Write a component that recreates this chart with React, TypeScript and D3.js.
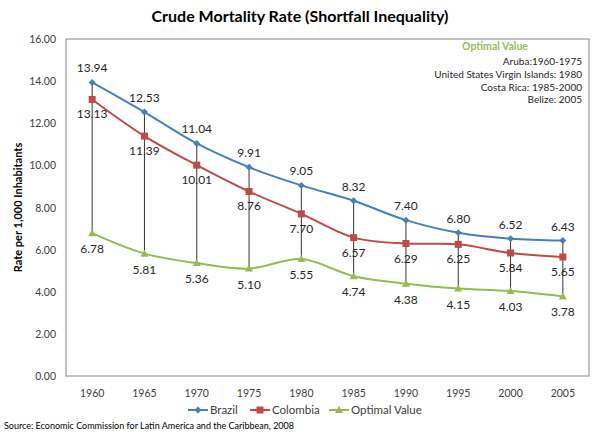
import React from "react";
import * as d3 from "d3";

const years = ["1960", "1965", "1970", "1975", "1980", "1985", "1990", "1995", "2000", "2005"];
const brazil = [13.94, 12.53, 11.04, 9.91, 9.05, 8.32, 7.4, 6.8, 6.52, 6.43];
const colombia = [13.13, 11.39, 10.01, 8.76, 7.7, 6.57, 6.29, 6.25, 5.84, 5.65];
const optimal = [6.78, 5.81, 5.36, 5.1, 5.55, 4.74, 4.38, 4.15, 4.03, 3.78];
const yTicks = [0, 2, 4, 6, 8, 10, 12, 14, 16];
const noteLines = ["Aruba:1960-1975", "United States Virgin Islands: 1980", "Costa Rica: 1985-2000", "Belize: 2005"];

const W = 600, H = 435;
const L = 66, R = 589, T = 39, B = 376;
const FONT = "Lato, 'Open Sans', sans-serif";
const BLUE = "#4A7EBB", RED = "#BE4B48", GREEN = "#98B954";

export default function App() {
  const x = d3.scaleBand().domain(years).range([L, R]);
  const y = d3.scaleLinear().domain([0, 16]).range([B, T]);
  const cx = (i: number) => (x(years[i]) as number) + x.bandwidth() / 2;
  const line = d3
    .line<number>()
    .x((_, i) => cx(i))
    .y((d) => y(d))
    .curve(d3.curveCatmullRom.alpha(0.5));

  const diamond = (px: number, py: number, key: string) => (
    <path key={key} d={`M${px},${py - 3.5}L${px + 3.5},${py}L${px},${py + 3.5}L${px - 3.5},${py}Z`} fill={BLUE} />
  );
  const square = (px: number, py: number, key: string) => (
    <rect key={key} x={px - 3.5} y={py - 3.5} width={7} height={7} fill={RED} />
  );
  const tri = (px: number, py: number, key: string) => (
    <path key={key} d={`M${px},${py - 4}L${px + 4},${py + 3}L${px - 4},${py + 3}Z`} fill={GREEN} />
  );

  const legendItems = [
    { name: "Brazil", color: BLUE, m: diamond },
    { name: "Colombia", color: RED, m: square },
    { name: "Optimal Value", color: GREEN, m: tri },
  ];
  const legendX = [188, 250, 329];

  return (
    <svg width={W} height={H} style={{ display: "block", position: "absolute", left: 0, top: 0 }} fontFamily={FONT}>
      <rect x={0} y={0} width={W} height={H} fill="#fff" />
      <text x={300} y={22} textAnchor="middle" fontSize={16} fontWeight="bold" fill="#000">
        Crude Mortality Rate (Shortfall Inequality)
      </text>
      <rect x={L} y={T} width={R - L} height={B - T} fill="none" stroke="#868686" strokeWidth={1} />
      {yTicks.map((t) => (
        <text key={t} x={56} y={y(t) + 4} textAnchor="end" fontSize={10.5} fill="#404040">
          {t.toFixed(2)}
        </text>
      ))}
      {years.map((yr, i) => (
        <text key={yr} x={cx(i)} y={397} textAnchor="middle" fontSize={10.5} fill="#404040">
          {yr}
        </text>
      ))}
      <text transform={`translate(22,${(T + B) / 2}) rotate(-90)`} textAnchor="middle" fontSize={11} fontWeight="bold" fill="#000">
        Rate per 1,000 Inhabitants
      </text>
      {years.map((yr, i) => (
        <line key={"hl" + yr} x1={cx(i)} x2={cx(i)} y1={y(brazil[i])} y2={y(optimal[i])} stroke="#000" strokeWidth={0.8} />
      ))}
      <path d={line(optimal) || ""} fill="none" stroke={GREEN} strokeWidth={2} />
      <path d={line(colombia) || ""} fill="none" stroke={RED} strokeWidth={2} />
      <path d={line(brazil) || ""} fill="none" stroke={BLUE} strokeWidth={2} />
      {optimal.map((v, i) => tri(cx(i), y(v), "o" + i))}
      {colombia.map((v, i) => square(cx(i), y(v), "c" + i))}
      {brazil.map((v, i) => diamond(cx(i), y(v), "b" + i))}
      {brazil.map((v, i) => (
        <text key={"bl" + i} x={cx(i)} y={y(v) - 10} textAnchor="middle" fontSize={12} fill="#262626">
          {v.toFixed(2)}
        </text>
      ))}
      {colombia.map((v, i) => (
        <text key={"cl" + i} x={cx(i)} y={y(v) + 19} textAnchor="middle" fontSize={12} fill="#262626">
          {v.toFixed(2)}
        </text>
      ))}
      {optimal.map((v, i) => (
        <text key={"ol" + i} x={cx(i)} y={y(v) + 20} textAnchor="middle" fontSize={12} fill="#262626">
          {v.toFixed(2)}
        </text>
      ))}
      <text x={495} y={50} textAnchor="middle" fontSize={10.5} fontWeight="bold" fill="#9BBB59">
        Optimal Value
      </text>
      {noteLines.map((s, i) => (
        <text key={s} x={582} y={65 + i * 12.8} textAnchor="end" fontSize={10} fill="#262626">
          {s}
        </text>
      ))}
      {legendItems.map((it, i) => (
        <g key={it.name}>
          <line x1={legendX[i]} x2={legendX[i] + 20} y1={410} y2={410} stroke={it.color} strokeWidth={2} />
          {it.m(legendX[i] + 10, 410, "lm" + i)}
          <text x={legendX[i] + 22} y={414} fontSize={11.5} fill="#404040">
            {it.name}
          </text>
        </g>
      ))}
      <text x={4} y={429} fontSize={9} fill="#000">
        Source: Economic Commission for Latin  America and the Caribbean, 2008
      </text>
    </svg>
  );
}
